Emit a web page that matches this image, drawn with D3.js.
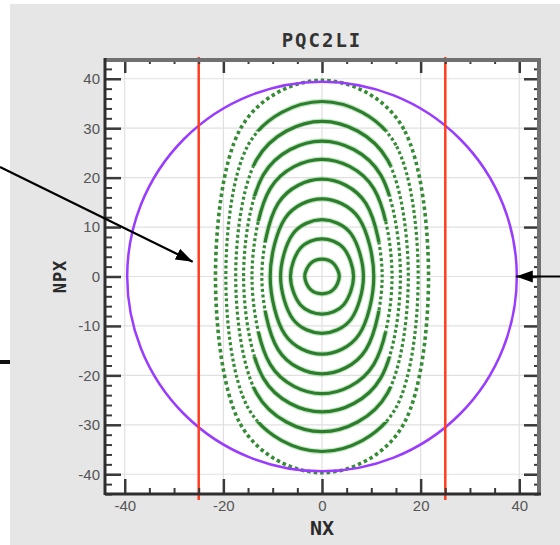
<!DOCTYPE html>
<html>
<head>
<meta charset="utf-8">
<script src="https://cdn.jsdelivr.net/npm/d3@7"></script>
<style>
body { margin: 0; background: #fff; }
.tick text { font-family: "Liberation Sans", Arial, sans-serif; font-size: 15px; fill: #555; }
</style>
</head>
<body>
<svg id="chart"></svg>
<script>
// phase space rings (inner -> outer)
// half width at NPX=0, half height at NX=0, half width at 3/4 of the height
const ringNX       = [3.5, 6.4, 8.4, 10.5, 12.2, 14.2, 15.9, 17.5, 19.5, 21.6];
const ringNPX      = [3.5, 7.6, 11.5, 15.7, 19.7, 23.7, 27.4, 31.4, 35.4, 39.7];
const ringShoulder = [2.35, 4.4, 5.9, 7.5, 8.9, 10.5, 11.9, 13.3, 15.0, 16.6];
// aperture circle radius and the two red limits
const apertureR = 39.5;
const limitNX = [-25, 25];
// tick values
const xMajor = [-40, -20, 0, 20, 40];
const xMinor = [-35, -30, -25, -15, -10, -5, 5, 10, 15, 25, 30, 35];
const yMajor = [-40, -30, -20, -10, 0, 10, 20, 30, 40];
const yMinor = d3.range(-44, 45, 2).filter(d => d % 10 !== 0);
const title = 'PQC2LI';

const w = 560, h = 545;
const pLeft = 105, pRight = 539, pTop = 59, pBottom = 494;

let svg = d3.select('#chart')
    .attr('width', w)
    .attr('height', h);

// page + plot background
svg.append('rect')
    .attr('x', 10).attr('y', 4)
    .attr('width', w - 10).attr('height', h - 4)
    .attr('fill', '#e6e6e6');
svg.append('rect')
    .attr('x', pLeft).attr('y', pTop)
    .attr('width', pRight - pLeft).attr('height', pBottom - pTop)
    .attr('fill', '#fff');

let xScale = d3.scaleLinear().domain([-44, 44]).range([pLeft, pRight]);
let yScale = d3.scaleLinear().domain([-44, 44]).range([pBottom, pTop]);

//grid
let grid = svg.append('g').attr('stroke', '#e2dfe2').attr('stroke-width', 1.2);
grid.selectAll('.gx').data(xMajor).enter().append('line')
    .attr('x1', d => xScale(d)).attr('x2', d => xScale(d))
    .attr('y1', pTop).attr('y2', pBottom);
grid.selectAll('.gy').data(yMajor).enter().append('line')
    .attr('y1', d => yScale(d)).attr('y2', d => yScale(d))
    .attr('x1', pLeft).attr('x2', pRight);

// rings: closed curve through the read points
let rings = ringNX.map((rx, i) => ({
    i: i,
    ry: ringNPX[i],
    pts: [[rx, 0], [ringShoulder[i], 0.75 * ringNPX[i]], [0, ringNPX[i]],
          [-ringShoulder[i], 0.75 * ringNPX[i]], [-rx, 0],
          [-ringShoulder[i], -0.75 * ringNPX[i]], [0, -ringNPX[i]],
          [ringShoulder[i], -0.75 * ringNPX[i]]]
}));
let ringLine = d3.line()
    .x(d => xScale(d[0]))
    .y(d => yScale(d[1]))
    .curve(d3.curveCardinalClosed.tension(0));

let defs = svg.append('defs');
const firstDotted = 4, lastSplit = 8;
let bandOf = i => 0.35 + 0.12 * (i - firstDotted);

rings.filter(r => r.i >= firstDotted && r.i <= lastSplit).forEach(r => {
    let band = r.ry * bandOf(r.i);
    let tb = defs.append('clipPath').attr('id', 'tb' + r.i);
    tb.append('rect').attr('x', pLeft).attr('y', pTop)
        .attr('width', pRight - pLeft).attr('height', yScale(band) - pTop);
    tb.append('rect').attr('x', pLeft).attr('y', yScale(-band))
        .attr('width', pRight - pLeft).attr('height', pBottom - yScale(-band));
    defs.append('clipPath').attr('id', 'sd' + r.i)
        .append('rect').attr('x', pLeft).attr('y', yScale(band))
        .attr('width', pRight - pLeft).attr('height', yScale(-band) - yScale(band));
});

let ringG = svg.append('g').attr('fill', 'none');
let solid = rings.filter(r => r.i <= lastSplit);
let dotted = rings.filter(r => r.i >= firstDotted);

ringG.selectAll('.halo').data(solid).enter().append('path')
    .attr('d', d => ringLine(d.pts))
    .attr('clip-path', d => d.i >= firstDotted ? 'url(#tb' + d.i + ')' : null)
    .attr('stroke', '#9ed69e').attr('stroke-width', 5.5).attr('opacity', 0.6);

ringG.selectAll('.solid').data(solid).enter().append('path')
    .attr('d', d => ringLine(d.pts))
    .attr('clip-path', d => d.i >= firstDotted ? 'url(#tb' + d.i + ')' : null)
    .attr('stroke', '#2c7e2c').attr('stroke-width', 3.2);

ringG.selectAll('.dots').data(dotted).enter().append('path')
    .attr('d', d => ringLine(d.pts))
    .attr('clip-path', d => d.i <= lastSplit ? 'url(#sd' + d.i + ')' : null)
    .attr('stroke', '#358c35')
    .attr('stroke-width', d => d.i <= lastSplit ? 3.2 : 3.6)
    .attr('stroke-dasharray', d => d.i <= lastSplit ? '3,2.5' : '3.5,3');

// aperture
svg.append('circle')
    .attr('cx', xScale(0)).attr('cy', yScale(0))
    .attr('r', xScale(apertureR) - xScale(0))
    .attr('fill', 'none')
    .attr('stroke', '#9a3cff')
    .attr('stroke-width', 2.5);

// red limits
svg.selectAll('.limit').data(limitNX).enter().append('line')
    .attr('x1', d => xScale(d)).attr('x2', d => xScale(d))
    .attr('y1', pTop - 2).attr('y2', pBottom + 6)
    .attr('stroke', '#ff3d1f')
    .attr('stroke-width', 2.5);

// axes, ticks inward
function styleAxis(g, width) {
    g.select('.domain').remove();
    g.selectAll('line').attr('stroke', '#3a3a3a').attr('stroke-width', width);
}
let fmt = d => String(d);

svg.append('g').attr('transform', 'translate(' + pLeft + ',0)')
    .call(d3.axisLeft(yScale).tickValues(yMinor).tickSize(-7).tickFormat(''))
    .call(g => styleAxis(g, 2));
svg.append('g').attr('transform', 'translate(' + pLeft + ',0)')
    .call(d3.axisLeft(yScale).tickValues(yMajor).tickSize(-16).tickPadding(5).tickFormat(fmt))
    .call(g => styleAxis(g, 2.5));

svg.append('g').attr('transform', 'translate(' + pRight + ',0)')
    .call(d3.axisRight(yScale).tickValues(yMinor).tickSize(-5).tickFormat(''))
    .call(g => styleAxis(g, 2));
svg.append('g').attr('transform', 'translate(' + pRight + ',0)')
    .call(d3.axisRight(yScale).tickValues(yMajor).tickSize(-15).tickFormat(''))
    .call(g => styleAxis(g, 2.5));

svg.append('g').attr('transform', 'translate(0,' + pTop + ')')
    .call(d3.axisTop(xScale).tickValues(xMinor).tickSize(-5).tickFormat(''))
    .call(g => styleAxis(g, 2));
svg.append('g').attr('transform', 'translate(0,' + pTop + ')')
    .call(d3.axisTop(xScale).tickValues(xMajor).tickSize(-14).tickFormat(''))
    .call(g => styleAxis(g, 2.5));

svg.append('g').attr('transform', 'translate(0,' + pBottom + ')')
    .call(d3.axisBottom(xScale).tickValues(xMinor).tickSize(-6).tickFormat(''))
    .call(g => styleAxis(g, 2));
svg.append('g').attr('transform', 'translate(0,' + pBottom + ')')
    .call(d3.axisBottom(xScale).tickValues(xMajor).tickSize(-15).tickPadding(6).tickFormat(fmt))
    .call(g => styleAxis(g, 2.5));

// frame
svg.append('line').attr('x1', pLeft).attr('x2', pRight).attr('y1', pTop + 1).attr('y2', pTop + 1)
    .attr('stroke', '#707070').attr('stroke-width', 4);
svg.append('line').attr('x1', pRight).attr('x2', pRight).attr('y1', pTop - 1).attr('y2', pBottom)
    .attr('stroke', '#707070').attr('stroke-width', 4);
svg.append('line').attr('x1', pLeft).attr('x2', pLeft).attr('y1', pTop - 1).attr('y2', pBottom + 1)
    .attr('stroke', '#2e2e2e').attr('stroke-width', 3);
svg.append('line').attr('x1', pLeft).attr('x2', pRight + 2).attr('y1', pBottom).attr('y2', pBottom)
    .attr('stroke', '#2e2e2e').attr('stroke-width', 3);

// titles
svg.append('text')
    .attr('x', xScale(0)).attr('y', 47)
    .style('text-anchor', 'middle')
    .style('font-family', '"DejaVu Sans Mono", monospace')
    .style('font-weight', 'bold').style('font-size', '19px')
    .style('letter-spacing', '2px')
    .attr('fill', '#333')
    .text(title);

svg.append('text')
    .attr('x', xScale(0)).attr('y', 535)
    .style('text-anchor', 'middle')
    .style('font-family', '"DejaVu Sans Mono", monospace')
    .style('font-weight', 'bold').style('font-size', '20px')
    .attr('fill', '#2a2a2a')
    .text('NX');

svg.append('text')
    .attr('transform', 'rotate(-90)')
    .attr('x', -yScale(0)).attr('y', 66)
    .style('text-anchor', 'middle')
    .style('font-family', '"DejaVu Sans Mono", monospace')
    .style('font-weight', 'bold').style('font-size', '17px')
    .style('letter-spacing', '1px')
    .attr('fill', '#2a2a2a')
    .text('NPX');

// annotation arrows
defs.append('marker')
    .attr('id', 'head')
    .attr('markerUnits', 'userSpaceOnUse')
    .attr('viewBox', '0 -7 17 14')
    .attr('refX', 17).attr('refY', 0)
    .attr('markerWidth', 17).attr('markerHeight', 14)
    .attr('orient', 'auto')
    .append('path').attr('d', 'M0,-6L17,0L0,6Z').attr('fill', '#000');

let arrows = [
    { x1: 0, y1: 167, x2: xScale(limitNX[0]) - 6, y2: yScale(3) },
    { x1: w, y1: yScale(0), x2: xScale(apertureR) - 1, y2: yScale(0) }
];
svg.selectAll('.arrow').data(arrows).enter().append('line')
    .attr('x1', d => d.x1).attr('y1', d => d.y1)
    .attr('x2', d => d.x2).attr('y2', d => d.y2)
    .attr('stroke', '#000').attr('stroke-width', 2.2)
    .attr('marker-end', 'url(#head)');

// stray bar at the left edge
svg.append('rect').attr('x', 0).attr('y', 360).attr('width', 10).attr('height', 4).attr('fill', '#111');
</script>
</body>
</html>
